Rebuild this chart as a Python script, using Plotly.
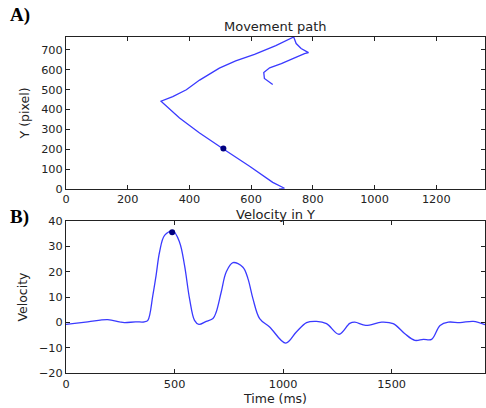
import plotly.graph_objects as go

# Movement path (pixel coords)
path_x = [690, 708, 670, 595, 510, 433, 368, 308, 346, 390, 433, 497, 550, 611, 680, 738,
          746, 762, 786, 773, 741, 698, 660, 641, 643, 670]
path_y = [0, 3, 33, 114, 201, 281, 357, 442, 465, 499, 548, 608, 645, 677, 722, 765,
          732, 707, 686, 681, 660, 631, 610, 586, 556, 526]
path_dot_x = [510]
path_dot_y = [203]

# Velocity in Y
time_ms = [0, 100, 192, 246, 269, 320, 361, 377, 400, 415, 431, 454, 492, 523, 546, 569,
           592, 612, 646, 677, 692, 715, 738, 769, 815, 838, 861, 892, 938, 1012, 1061,
           1108, 1154, 1200, 1258, 1307, 1330, 1381, 1454, 1507, 1561, 1607, 1646, 1684,
           1723, 1761, 1815, 1876, 1930]
velocity = [-0.8, 0.2, 1.1, 0.2, -0.1, 0.2, 0.2, 0.8, 10.7, 18.6, 27.8, 34.4, 36.1, 31.7,
            22.5, 9.4, 0.8, -0.8, 0.4, 1.5, 4.1, 12, 19.9, 23.6, 21.8, 17.3, 9.4, 1.5, -1.8,
            -8.2, -3.8, -0.1, 0.4, -0.5, -4.7, -0.4, 0.1, -1.2, 0.1, -0.5, -4.5, -7.1, -6.7,
            -6.7, -1.2, 0.1, -0.1, 0.4, -0.9]
vel_dot_t = [489]
vel_dot_v = [35.6]

LINE = "#3a3aff"
FONT = dict(family="DejaVu Sans", size=11.3, color="#222")
TFONT = dict(family="DejaVu Sans", size=12.5, color="#222")

fig = go.Figure()
fig.add_trace(go.Scatter(x=path_x, y=path_y, mode="lines",
                         line=dict(color=LINE, width=1.3), xaxis="x", yaxis="y"))
fig.add_trace(go.Scatter(x=path_dot_x, y=path_dot_y, mode="markers",
                         marker=dict(color="#000080", size=6), xaxis="x", yaxis="y"))
fig.add_trace(go.Scatter(x=time_ms, y=velocity, mode="lines", line_shape="spline",
                         line=dict(color=LINE, width=1.3), xaxis="x2", yaxis="y2"))
fig.add_trace(go.Scatter(x=vel_dot_t, y=vel_dot_v, mode="markers",
                         marker=dict(color="#000080", size=6), xaxis="x2", yaxis="y2"))

axis_common = dict(showline=True, linecolor="#222", linewidth=1, mirror="ticks",
                   ticks="inside", ticklen=4, tickcolor="#222", showgrid=False,
                   zeroline=False, tickfont=FONT, automargin=False)

fig.update_layout(
    width=486, height=408,
    margin=dict(l=66, r=1, t=37, b=35),
    plot_bgcolor="white", paper_bgcolor="white",
    showlegend=False,
    font=FONT,
    xaxis=dict(domain=[0, 1], range=[0, 1358], tickvals=[0, 200, 400, 600, 800, 1000, 1200],
               anchor="y", **axis_common),
    yaxis=dict(domain=[0.548, 1], range=[0, 765], tickvals=[0, 100, 200, 300, 400, 500, 600, 700],
               anchor="x", title=dict(text="Y (pixel)", font=TFONT, standoff=8), **axis_common),
    xaxis2=dict(domain=[0, 1], range=[0, 1930], tickvals=[0, 500, 1000, 1500],
                anchor="y2", title=dict(text="Time (ms)", font=TFONT, standoff=3), **axis_common),
    yaxis2=dict(domain=[0, 0.452], range=[-20, 40], tickvals=[-20, -10, 0, 10, 20, 30, 40],
                anchor="x2", title=dict(text="Velocity", font=TFONT, standoff=8), **axis_common),
    annotations=[
        dict(text="Movement path", x=0.5, y=1, xref="x domain", yref="y domain",
             yanchor="bottom", showarrow=False, yshift=1,
             font=dict(family="DejaVu Sans", size=13, color="#222")),
        dict(text="Velocity in Y", x=0.5, y=1, xref="x2 domain", yref="y2 domain",
             yanchor="bottom", showarrow=False, yshift=-3,
             font=dict(family="DejaVu Sans", size=13, color="#222")),
        dict(text="<b>A)</b>", x=8, y=15, xref="paper", yref="paper", showarrow=False,
             xanchor="left", yanchor="middle",
             font=dict(family="Liberation Serif", size=19, color="black")),
        dict(text="<b>B)</b>", x=8, y=217, xref="paper", yref="paper", showarrow=False,
             xanchor="left", yanchor="middle",
             font=dict(family="Liberation Serif", size=19, color="black")),
    ],
)

# convert pixel positions of panel labels to paper coords
plot_w = 486 - 66 - 1
plot_h = 408 - 37 - 35
for ann in fig.layout.annotations:
    if ann.text in ("<b>A)</b>", "<b>B)</b>"):
        px, py = ann.x, ann.y
        ann.x = (px - 66) / plot_w
        ann.y = (408 - 35 - py) / plot_h

fig.write_html("out.html", config={"displayModeBar": False},
               post_script="document.body.style.margin='0';document.body.style.overflow='hidden';")
